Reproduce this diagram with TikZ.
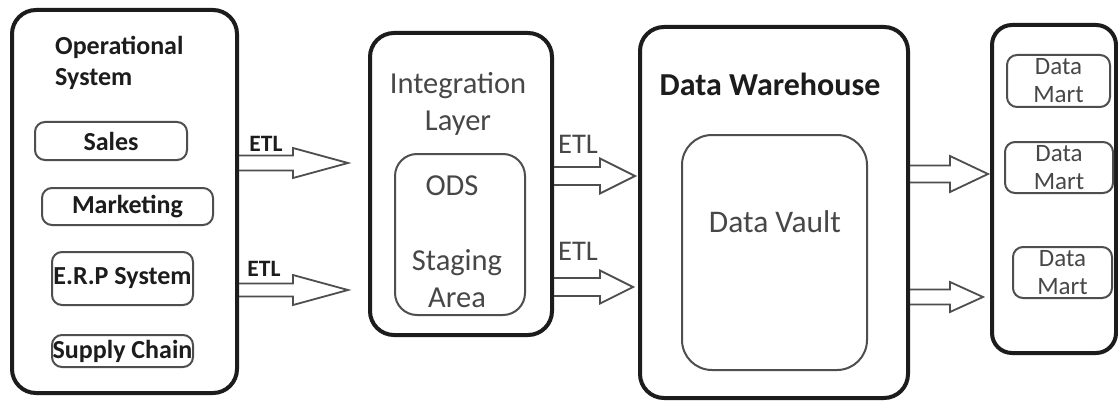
\documentclass[tikz,border=0pt]{standalone}
\usepackage{fontspec}
\setmainfont{Carlito}
\usetikzlibrary{calc}

\definecolor{ink}{HTML}{1C1C1C}
\definecolor{soft}{HTML}{474747}
\definecolor{edge}{HTML}{4E4E4E}

\newcommand\boldlabel{\fontsize{26}{31}\selectfont\bfseries}
\newcommand\layerfont{\fontsize{30.5}{37}\selectfont}
\newcommand\martfont{\fontsize{25}{28}\selectfont}

% outlined block arrow: start, tip, head length, shaft half width, head half width
\newcommand\blockarrow[5]{%
  \draw[arrowline] let \p1=(#1), \p2=(#2) in
    (\x1,\y1+#4) -- (\x2-#3,\y1+#4) -- (\x2-#3,\y1+#5) -- (\x2,\y2)
    -- (\x2-#3,\y1-#5) -- (\x2-#3,\y1-#4) -- (\x1,\y1-#4);}

\tikzset{
  outerbox/.style={draw=ink, line width=4pt, rectangle, rounded corners=24pt, inner sep=0pt},
  innerbox/.style={draw=edge, line width=2pt, rectangle, inner sep=0pt},
  smallbox/.style={innerbox, rounded corners=10pt, font=\boldlabel, text=ink},
  martbox/.style={innerbox, rounded corners=10pt, font=\martfont, text=soft, align=center},
  arrowline/.style={draw=edge, line width=1.8pt, line join=miter},
  etlbold/.style={font=\fontsize{23.5}{28}\selectfont\bfseries, text=ink, inner sep=0pt},
  etlplain/.style={font=\fontsize{28.5}{32}\selectfont, text=soft, inner sep=0pt},
  title/.style={inner sep=0pt, align=center}
}

\begin{document}
\begin{tikzpicture}[x=1pt,y=-1pt]
\fill[white] (0,0) rectangle (1118,401);
\useasboundingbox (0,0) rectangle (1118,401);

% operational systems
\node[outerbox, minimum width=225pt, minimum height=383pt] (os) at (124.5,201.5) {};
\node[inner sep=0pt, align=left, anchor=west, font=\boldlabel, text=ink] (ostitle) at (55,63) {Operational\\System};
\node[smallbox, minimum width=152pt, minimum height=38pt] (sales) at (111,141) {Sales};
\node[smallbox, minimum width=171pt, minimum height=37pt] (mkt) at (127.5,206.5) {Marketing};
\node[smallbox, minimum width=141pt, minimum height=53pt] (erp) at (122.5,278.5) {E.R.P System};
\node[smallbox, minimum width=141pt, minimum height=32pt] (scm) at (122.5,351) {Supply Chain};

% integration layer
\node[outerbox, minimum width=182pt, minimum height=302pt] (il) at (461,184) {};
\node[title, font=\layerfont, text=soft] (iltitle) at (458,104) {Integration\\Layer};
\node[innerbox, rounded corners=22pt, minimum width=130pt, minimum height=161pt] (ods) at (460,234.5) {};
\node[inner sep=0pt, font=\layerfont, text=soft] (odslabel) at (452,186) {ODS};
\node[title, font=\layerfont, text=soft] (staging) at (457,279) {Staging\\Area};

% data warehouse
\node[outerbox, minimum width=268pt, minimum height=371pt] (dw) at (774,212.5) {};
\node[inner sep=0pt, font=\fontsize{32}{36}\selectfont\bfseries, text=ink] (dwtitle) at (770,84) {Data Warehouse};
\node[innerbox, rounded corners=30pt, minimum width=185pt, minimum height=235pt] (vault) at (774.5,252.5) {};
\node[inner sep=0pt, font=\fontsize{31.5}{36}\selectfont, text=soft] (vaultlabel) at (775,222) {Data Vault};

% data marts
\node[outerbox, rounded corners=20pt, minimum width=124pt, minimum height=328pt] (dm) at (1054,189) {};
\node[martbox, minimum width=103pt, minimum height=52pt] (mart1) at (1058.5,81) {Data\\Mart};
\node[martbox, minimum width=108pt, minimum height=51pt] (mart2) at (1059,167.5) {Data\\Mart};
\node[martbox, minimum width=99pt, minimum height=51pt] (mart3) at (1062.5,272.5) {Data\\Mart};

% ETL flows between the layers
\coordinate (s1) at (os.east |- 0,163);
\coordinate (t1) at ([xshift=-20pt]il.west |- 0,163);
\coordinate (s2) at (os.east |- 0,290);
\coordinate (t2) at ([xshift=-20pt]il.west |- 0,290);
\coordinate (s3) at (il.east |- 0,176);
\coordinate (t3) at ([xshift=-3pt]dw.west |- 0,176);
\coordinate (s4) at (il.east |- 0,287);
\coordinate (t4) at ([xshift=-5pt]dw.west |- 0,287);
\coordinate (s5) at (dw.east |- 0,174);
\coordinate (t5) at ([xshift=-2pt]dm.west |- 0,174);
\coordinate (s6) at (dw.east |- 0,297);
\coordinate (t6) at ([xshift=-7pt]dm.west |- 0,297);

\blockarrow{s1}{t1}{55pt}{7.5pt}{15pt}
\blockarrow{s2}{t2}{55pt}{6.5pt}{15pt}
\blockarrow{s3}{t3}{35pt}{9pt}{17.5pt}
\blockarrow{s4}{t4}{33pt}{9pt}{16.5pt}
\blockarrow{s5}{t5}{38pt}{8.5pt}{18pt}
\blockarrow{s6}{t6}{33pt}{7.5pt}{15pt}

\node[etlbold] (etl1) at (266,144) {ETL};
\node[etlbold] (etl2) at (264,269) {ETL};
\node[etlplain] (etl3) at (578,144) {ETL};
\node[etlplain] (etl4) at (578,251) {ETL};
\end{tikzpicture}
\end{document}
